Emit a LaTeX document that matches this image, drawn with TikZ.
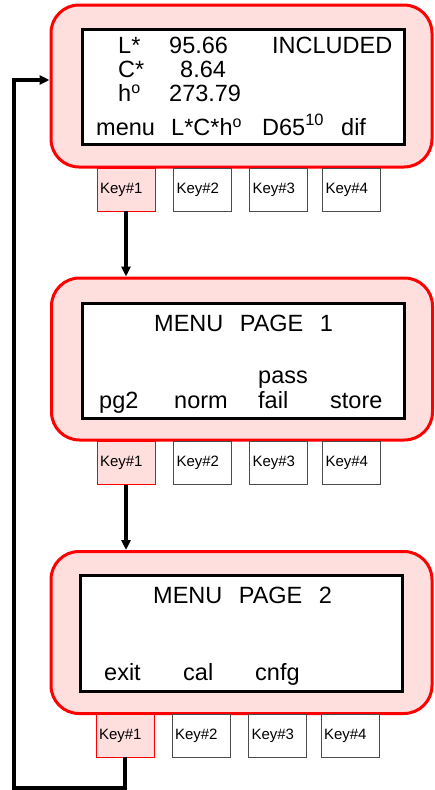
\documentclass[tikz,border=0pt]{standalone}
\usepackage{fontspec}
\setmainfont{Liberation Sans}
\usetikzlibrary{arrows.meta,calc}

\newcommand{\dego}{\raisebox{7.5pt}{\fontsize{16}{16}\selectfont o}}

\tikzset{
  panel/.style={draw=red, line width=3pt, fill=red!13, rounded corners=28pt,
    minimum width=381pt, minimum height=162pt},
  screen/.style={draw=black, line width=3pt, fill=white,
    minimum width=322pt, minimum height=115pt},
  keybox/.style={draw=black!70, line width=0.7pt, fill=white, inner sep=3pt,
    text width=52pt, minimum height=43pt, align=left,
    font=\fontsize{15}{17}\selectfont},
  keyon/.style={keybox, draw=red, fill=red!13},
  lcd/.style={inner sep=0pt, anchor=base west, font=\fontsize{23.5}{26}\selectfont},
  flow/.style={line width=3.5pt, -{Triangle[length=10pt,width=9pt]}}
}

\begin{document}
\begin{tikzpicture}[x=1pt, y=-1pt]

    \useasboundingbox (0,0) rectangle (435,790);

    % the three display panels
    \node[panel] (p1) at (241.5,86) {};
    \node[screen] (s1) at (243,86.5) {};
    \node[panel] (p2) at (242,359) {};
    \node[screen] (s2) at (243,360.5) {};
    \node[panel] (p3) at (241.5,632.5) {};
    \node[screen, minimum height=116pt] (s3) at (241,633) {};

    % panel 1: reading
    \node[lcd] (l1) at (118,53) {L*};
    \node[lcd] (l1v) at (169,53) {95.66};
    \node[lcd] (inc) at (272,53) {INCLUDED};
    \node[lcd] (c1) at (118,77) {C*};
    \node[lcd] (c1v) at (180,77) {8.64};
    \node[lcd] (h1) at (118,101) {h\dego};
    \node[lcd] (h1v) at (169,101) {273.79};
    \node[lcd] (menu) at (96,135) {menu};
    \node[lcd] (lch) at (171,135) {L*C*h\dego};
    \node[lcd] (ill) at (262,135) {D65\textsuperscript{10}};
    \node[lcd] (dif) at (341,135) {dif};

    % panel 2: menu page 1
    \node[lcd] (t2) at (154,331) {MENU\hspace{0.7em}PAGE\hspace{0.7em}1};
    \node[lcd] (pg2) at (99,408) {pg2};
    \node[lcd] (norm) at (174,408) {norm};
    \node[lcd] (pass) at (258,383) {pass};
    \node[lcd] (fail) at (258,408) {fail};
    \node[lcd] (store) at (330,408) {store};

    % panel 3: menu page 2
    \node[lcd] (t3) at (153,603) {MENU\hspace{0.7em}PAGE\hspace{0.7em}2};
    \node[lcd] (exit) at (104,680) {exit};
    \node[lcd] (cal) at (183,680) {cal};
    \node[lcd] (cnfg) at (255,680) {cnfg};

    % keys under each panel
    \node[keyon] (k11) at (126,189.5) {Key\#1};
    \node[keybox] (k12) at (202.5,189.5) {Key\#2};
    \node[keybox] (k13) at (278.5,189.5) {Key\#3};
    \node[keybox] (k14) at (351.5,189.5) {Key\#4};

    \node[keyon] (k21) at (126,463) {Key\#1};
    \node[keybox] (k22) at (202.5,463) {Key\#2};
    \node[keybox] (k23) at (278.5,463) {Key\#3};
    \node[keybox] (k24) at (351.5,463) {Key\#4};

    \node[keyon] (k31) at (125,735.5) {Key\#1};
    \node[keybox] (k32) at (201,735.5) {Key\#2};
    \node[keybox] (k33) at (277.5,735.5) {Key\#3};
    \node[keybox] (k34) at (350,735.5) {Key\#4};

    % key flow
    \draw[flow] (k11.south) -- (k11.south |- p2.north);
    \draw[flow] (k21.south) -- (k21.south |- p3.north);
    \coordinate (back) at (14,788);
    \draw[flow] (k31.south) |- (back) |- ([yshift=6pt]p1.west);

\end{tikzpicture}
\end{document}
